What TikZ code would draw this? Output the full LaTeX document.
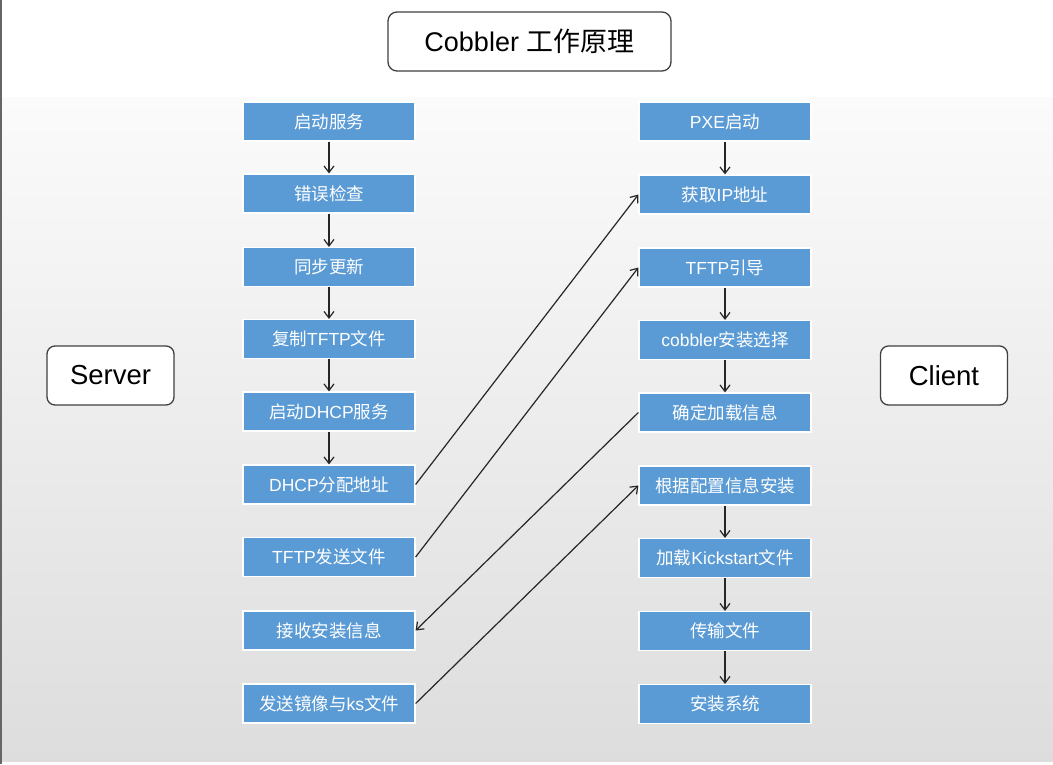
\documentclass[tikz,border=0pt]{standalone}
\usepackage{fontspec}
\setmainfont{Liberation Sans}
\newfontfamily\cjk{Noto Sans CJK SC}
\usetikzlibrary{arrows.meta}
\definecolor{boxblue}{HTML}{5B9BD5}
\definecolor{edge}{HTML}{404040}
\definecolor{bgtop}{HTML}{FBFBFB}
\definecolor{bgbot}{HTML}{DDDDDD}
\tikzset{
  stepbox/.style={draw=white, line width=1.2pt, fill=boxblue, text=white,
    minimum width=172pt, minimum height=39pt, inner sep=0pt, font=\fontsize{17.5}{20}\selectfont},
  rolebox/.style={draw=edge, line width=1.3pt, fill=white, rounded corners=8pt,
    minimum width=127pt, minimum height=59pt, inner sep=0pt, font=\fontsize{27.5}{30}\selectfont},
  titlebox/.style={draw=edge, line width=1.3pt, fill=white, rounded corners=9pt,
    minimum width=283pt, minimum height=59pt, inner sep=0pt, font=\fontsize{27}{30}\selectfont},
  flow/.style={draw=black!85, line width=1.2pt, -{Straight Barb[length=6.5pt,width=10pt,line width=1.2pt]}}
}
\begin{document}
\begin{tikzpicture}[x=1pt,y=-1pt]
\useasboundingbox (0,0) rectangle (1053,764);
\fill[white] (0,0) rectangle (1053,764);
\shade[top color=bgtop, bottom color=bgbot] (2,97) rectangle (1053,761);
\draw[black!60, line width=1.5pt] (1,0) -- (1,764);

\node[titlebox] (title) at (529.5,41.5) {Cobbler {\cjk 工作原理}};
\node[rolebox] (server) at (110.5,375.5) {Server};
\node[rolebox] (client) at (944,375.5) {Client};

% left column
\node[stepbox] (l1) at (329,121.5) {\cjk 启动服务};
\node[stepbox] (l2) at (329,193.5) {\cjk 错误检查};
\node[stepbox] (l3) at (329,267) {\cjk 同步更新};
\node[stepbox] (l4) at (329,339) {{\cjk 复制}TFTP{\cjk 文件}};
\node[stepbox] (l5) at (329,411.5) {{\cjk 启动}DHCP{\cjk 服务}};
\node[stepbox] (l6) at (329,484.5) {DHCP{\cjk 分配地址}};
\node[stepbox] (l7) at (329,557) {TFTP{\cjk 发送文件}};
\node[stepbox] (l8) at (329,630.5) {\cjk 接收安装信息};
\node[stepbox] (l9) at (329,703.5) {{\cjk 发送镜像与}ks{\cjk 文件}};

% right column
\node[stepbox] (r1) at (725,121.5) {PXE{\cjk 启动}};
\node[stepbox] (r2) at (725,194.5) {{\cjk 获取}IP{\cjk 地址}};
\node[stepbox] (r3) at (725,267.5) {TFTP{\cjk 引导}};
\node[stepbox] (r4) at (725,340) {cobbler{\cjk 安装选择}};
\node[stepbox] (r5) at (725,412.5) {\cjk 确定加载信息};
\node[stepbox] (r6) at (725,485.5) {\cjk 根据配置信息安装};
\node[stepbox] (r7) at (725,558) {{\cjk 加载}Kickstart{\cjk 文件}};
\node[stepbox] (r8) at (725,631) {\cjk 传输文件};
\node[stepbox] (r9) at (725,704) {\cjk 安装系统};

\foreach \a/\b in {l1/l2,l2/l3,l3/l4,l4/l5,l5/l6,r1/r2,r3/r4,r4/r5,r6/r7,r7/r8,r8/r9}
  \draw[flow] (\a.south) -- (\b.north);

\draw[flow] (l6.east) -- (r2.west);
\draw[flow] (l7.east) -- (r3.west);
\draw[flow] (r5.west) -- (l8.east);
\draw[flow] (l9.east) -- (r6.west);
\end{tikzpicture}
\end{document}
